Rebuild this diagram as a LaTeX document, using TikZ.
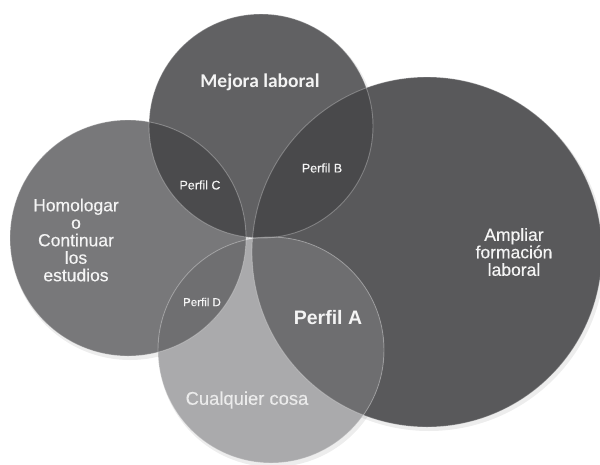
\documentclass[tikz,border=0pt]{standalone}
\usepackage{fontspec}
\setmainfont{Liberation Sans}
\newfontfamily\calfont{Carlito}
\newfontfamily\labfont[FakeBold=0.35]{Liberation Sans}
\definecolor{cTop}{HTML}{616163}
\definecolor{cLeft}{HTML}{78787A}
\definecolor{cBig}{HTML}{59595B}
\definecolor{cBot}{HTML}{AAAAAC}
\definecolor{cPC}{HTML}{4B4B4D}
\definecolor{cPB}{HTML}{49494B}
\definecolor{cPA}{HTML}{6E6E70}
\definecolor{cPD}{HTML}{6F6F71}
\definecolor{txt}{HTML}{F4F4F4}
\tikzset{
  rim/.style={draw=white, draw opacity=0.28, line width=0.9pt},
  shade/.style={fill=black, fill opacity=0.07},
  lbl/.style={text=txt, align=center, inner sep=0pt},
}
\begin{document}
\begin{tikzpicture}[x=1pt,y=-1pt]
\useasboundingbox (0,0) rectangle (600,464);
\fill[white] (0,0) rectangle (600,464);
% centres
\coordinate (cT) at (261,126);
\coordinate (cL) at (128,238);
\coordinate (cB) at (427,252);
\coordinate (cD) at (271,350);
% soft shadows
\fill[shade] ([shift={(2,3)}]cB) circle (176pt);
\fill[shade] ([shift={(2,3)}]cT) circle (113pt);
\fill[shade] ([shift={(2,3)}]cL) circle (119pt);
\fill[shade] ([shift={(2,3)}]cD) circle (114pt);
% base circles
\fill[cBig] (cB) circle (175pt);
\fill[cTop] (cT) circle (112pt);
\fill[cLeft] (cL) circle (118pt);
\fill[cBot] (cD) circle (113pt);
% overlaps
\begin{scope}
  \clip (cT) circle (112pt);
  \fill[cPC] (cL) circle (118pt);
  \fill[cPB] (cB) circle (175pt);
\end{scope}
\begin{scope}
  \clip (cD) circle (113pt);
  \fill[cPD] (cL) circle (118pt);
  \fill[cPA] (cB) circle (175pt);
\end{scope}
% rims
\path[rim] (cB) circle (175pt);
\path[rim] (cT) circle (112pt);
\path[rim] (cL) circle (118pt);
\path[rim] (cD) circle (113pt);
% labels
\node[lbl, font=\calfont\bfseries\fontsize{19.5}{21}\selectfont] (mejora) at (260,82) {Mejora laboral};
\node[lbl, font=\labfont\fontsize{17.5}{17.5}\selectfont] (homo) at (76,240) {Homologar\\o\\Continuar\\los\\estudios};
\node[lbl, font=\labfont\fontsize{17.5}{17.5}\selectfont] (ampl) at (514,252) {Ampliar\\formación\\laboral};
\node[lbl, font=\labfont\fontsize{12.5}{14}\selectfont] (pc) at (200,185) {Perfil C};
\node[lbl, font=\labfont\fontsize{12.5}{14}\selectfont] (pb) at (322,168) {Perfil B};
\node[lbl, font=\labfont\fontsize{11.5}{14}\selectfont] (pd) at (202,302) {Perfil D};
\node[lbl, font=\bfseries\fontsize{19.5}{22}\selectfont] (pa) at (328,318) {Perfil A};
\node[lbl, font=\labfont\fontsize{18.4}{20}\selectfont, text=white!92!black] (cual) at (247,400) {Cualquier cosa};
\end{tikzpicture}
\end{document}
